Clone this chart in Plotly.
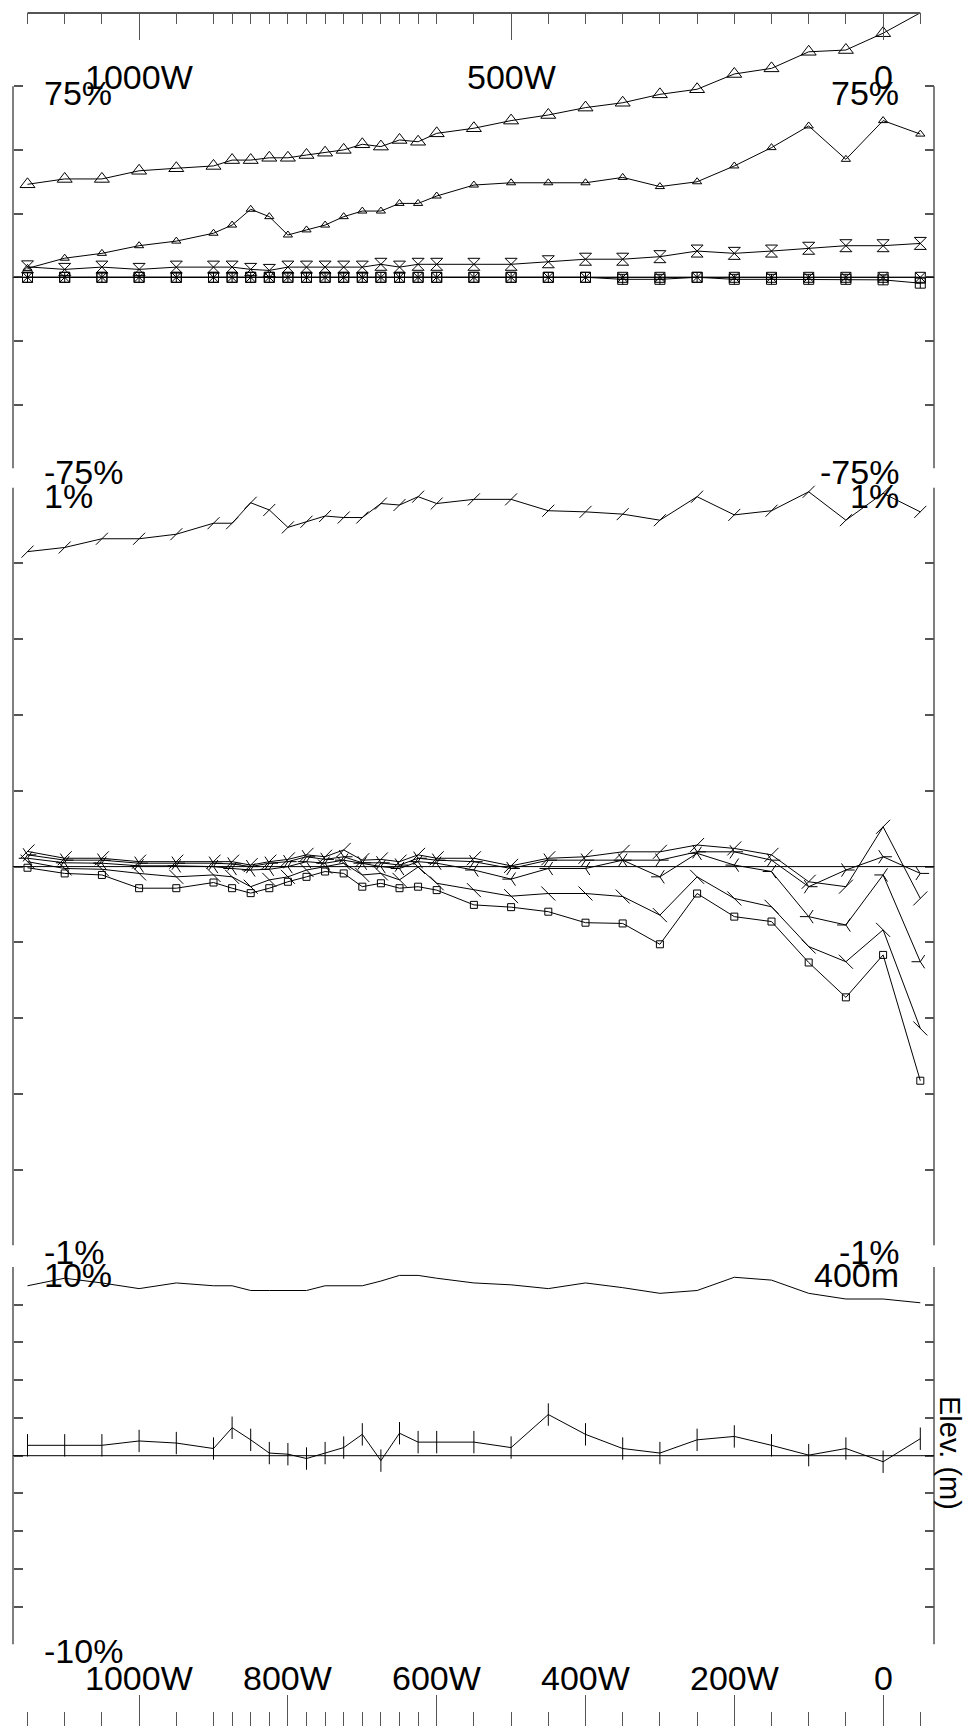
import plotly.graph_objects as go

W, H = 969, 1726

# ---------------- data ----------------
# distance along transect (m West; negative = East)
dist_w = [1150, 1100, 1050, 1000, 950, 900, 875, 850, 825, 800, 775, 750, 725, 700, 675,
          650, 625, 600, 550, 500, 450, 400, 350, 300, 250, 200, 150, 100, 50, 0, -50]
top_tick_vals = [1000, 500, 0]
top_tick_text = ["1000W", "500W", "0"]
bot_tick_vals = [1000, 800, 600, 400, 200, 0]
bot_tick_text = ["1000W", "800W", "600W", "400W", "200W", "0"]

# panel 1 (%, range -75..75)
p1_a = [36.5, 38.6, 38.6, 41.8, 42.8, 43.7, 46.0, 46.0, 46.9, 46.9, 48.0, 48.9, 50.0, 52.2, 51.3,
        53.9, 53.2, 56.5, 58.5, 61.5, 63.7, 66.6, 68.5, 71.8, 73.8, 79.8, 82.0, 88.5, 89.2, 95.8, 103.8]
p1_b = [3.5, 7.5, 9.4, 12.4, 14.2, 17.3, 20.5, 26.7, 23.8, 16.6, 18.6, 20.5, 23.8, 26.0, 26.0,
        29.0, 29.0, 31.9, 36.2, 37.1, 37.1, 37.1, 39.2, 35.6, 37.5, 43.7, 50.9, 59.4, 46.3, 61.5, 56.2]
p1_c = [4.1, 3.1, 4.0, 3.1, 4.0, 4.0, 4.0, 3.1, 2.7, 4.0, 4.0, 4.0, 4.0, 4.0, 5.1,
        4.0, 5.1, 5.1, 5.1, 5.1, 6.1, 7.1, 7.1, 8.1, 10.3, 9.4, 10.3, 11.4, 12.4, 12.4, 13.3]
p1_d = [0.0, 0.0, 0.0, 0.0, 0.0, 0.0, 0.0, 0.0, 0.0, 0.0, 0.0, 0.0, 0.0, 0.0, 0.0,
        0.0, 0.0, 0.0, 0.0, 0.0, 0.0, 0.0, 0.0, 0.0, 0.0, 0.0, 0.0, 0.0, 0.0, 0.0, 0.0]
p1_e = [0.0, 0.0, 0.0, 0.0, 0.0, 0.0, 0.0, 0.0, 0.0, 0.0, 0.0, 0.0, 0.0, 0.0, 0.0,
        0.0, 0.0, 0.0, 0.0, 0.0, 0.0, 0.0, -0.8, -0.8, 0.0, -0.8, -0.8, -0.8, -0.8, -1.0, -2.3]

# panel 2 (%, range -1..1)
p2_seven = [0.831, 0.842, 0.865, 0.865, 0.877, 0.906, 0.906, 0.960, 0.941, 0.895, 0.910, 0.925, 0.921, 0.921, 0.958,
            0.954, 0.976, 0.958, 0.969, 0.969, 0.939, 0.936, 0.930, 0.914, 0.976, 0.928, 0.939, 0.989, 0.914, 0.985, 0.936]
p2_s1 = [0.040, 0.022, 0.022, 0.013, 0.013, 0.013, 0.013, 0.004, 0.013, 0.019, 0.031, 0.026, 0.044, 0.017, 0.019,
         0.013, 0.031, 0.022, 0.022, 0.002, 0.022, 0.026, 0.039, 0.039, 0.057, 0.048, 0.031, -0.040, -0.053, 0.105, -0.084]
p2_s2 = [0.031, 0.017, 0.017, 0.009, 0.009, 0.009, 0.007, 0.000, 0.009, 0.013, 0.026, 0.019, 0.026, 0.010, 0.010,
         0.004, 0.022, 0.017, 0.013, -0.005, 0.017, 0.017, 0.017, 0.017, 0.039, 0.039, 0.017, -0.053, -0.009, 0.026, -0.018]
p2_s3 = [0.022, 0.010, 0.009, 0.002, 0.002, 0.000, -0.005, -0.009, -0.007, 0.000, 0.013, 0.009, 0.017, 0.009, 0.000,
         -0.005, 0.013, 0.009, -0.009, -0.033, -0.005, -0.005, 0.017, -0.027, 0.035, 0.004, -0.013, -0.132, -0.154, -0.022, -0.251]
p2_s4 = [0.013, -0.005, -0.007, -0.018, -0.027, -0.022, -0.027, -0.053, -0.035, -0.027, -0.009, 0.000, 0.009, -0.022, -0.018,
         -0.035, -0.001, -0.044, -0.062, -0.078, -0.071, -0.071, -0.079, -0.128, -0.027, -0.084, -0.106, -0.211, -0.251, -0.167, -0.427]
p2_s5 = [-0.003, -0.018, -0.022, -0.057, -0.057, -0.042, -0.057, -0.070, -0.057, -0.040, -0.027, -0.013, -0.018, -0.053, -0.044,
         -0.057, -0.053, -0.062, -0.101, -0.107, -0.119, -0.148, -0.150, -0.205, -0.071, -0.132, -0.145, -0.253, -0.345, -0.233, -0.565]

# panel 3
elev_m = [380, 388, 383, 377, 383, 380, 380, 375, 375, 375, 375, 380, 380, 380, 385,
          391, 391, 388, 383, 381, 377, 383, 378, 372, 375, 389, 386, 372, 366, 366, 362]
p3_bar = [0.55, 0.55, 0.55, 0.78, 0.67, 0.38, 1.48, 0.84, 0.14, 0.08, -0.15, 0.14, 0.43, 1.13, -0.26,
          1.19, 0.72, 0.72, 0.72, 0.43, 2.18, 1.13, 0.38, 0.14, 0.84, 1.02, 0.55, 0.03, 0.38, -0.32, 0.90]

p1_ticks = [-75, -50, -25, 0, 25, 50, 75]
p2_ticks = [-1, -0.8, -0.6, -0.4, -0.2, 0, 0.2, 0.4, 0.6, 0.8, 1]
p3_ticks = [-10, -8, -6, -4, -2, 0, 2, 4, 6, 8, 10]
elev_ticks = [0, 40, 80, 120, 160, 200, 240, 280, 320, 360, 400]

# ---------------- helpers ----------------
x = [-d for d in dist_w]
def py(p):
    return 1 - p / H
def pxp(p):
    return p / W

XL, XR = 13, 934
FONT = dict(family="Liberation Sans Narrow, Arial Narrow, Liberation Sans, Arial, sans-serif", size=34, color="black")
AX = "#555555"

fig = go.Figure()

def add(y, xa, ya, symbol, size, mode="lines+markers"):
    fig.add_trace(go.Scatter(
        x=x, y=y, xaxis=xa, yaxis=ya, mode=mode, cliponaxis=False,
        line=dict(color="black", width=1),
        marker=dict(symbol=symbol, size=size, color="black",
                    line=dict(color="black", width=1)),
        showlegend=False, hoverinfo="skip"))

# panel 1 (top x axis x2 anchored to the panel's y axis)
add(p1_d, "x2", "y", "square-x-open", 10)
add(p1_e, "x2", "y5", "square-cross-open", 10)
add(p1_c, "x2", "y", "hourglass-open", 12)
add(p1_b, "x2", "y", "triangle-up-open", 8)
add(p1_a, "x2", "y", "triangle-up-open", 13)
# panel 2
add(p2_seven, "x", "y2", "line-ne-open", 12)
add(p2_s5, "x", "y6", "square-open", 7)
add(p2_s4, "x", "y6", "line-nw-open", 14)
add(p2_s3, "x", "y6", "y-left-open", 11)
add(p2_s2, "x", "y6", "y-right-open", 11)
add(p2_s1, "x", "y6", "line-ne-open", 14)
# panel 3
add(p3_bar, "x", "y3", "line-ns-open", 16)
add(elev_m, "x", "y4", "circle", 1, mode="lines")

# ---------------- axes ----------------
px_per = (920.3 - 27.5) / (max(dist_w) - min(dist_w))
xr = [-max(dist_w) - (27.5 - XL) / px_per, -min(dist_w) + (XR - 920.3) / px_per]

common_x = dict(domain=[pxp(XL), pxp(XR)], range=xr, showgrid=False, zeroline=False,
                showline=False, showticklabels=False, ticks="inside", tickcolor=AX, tickwidth=1)
fig.update_layout(
    xaxis=dict(**common_x, anchor="free", position=0, side="bottom",
               tickmode="array", tickvals=[-v for v in bot_tick_vals], ticklen=31,
               minor=dict(tickmode="array", tickvals=x, ticklen=14, ticks="inside",
                          tickcolor=AX, tickwidth=1)),
    xaxis2=dict(**common_x, anchor="y", side="top",
                tickmode="array", tickvals=[-v for v in top_tick_vals], ticklen=27,
                minor=dict(tickmode="array", tickvals=x, ticklen=11, ticks="inside",
                           tickcolor=AX, tickwidth=1)),
)

def yax(dom_px, rng, ticks, side, pos, **kw):
    d = dict(domain=[py(dom_px[1]), py(dom_px[0])], range=rng, anchor="free", position=pos, side=side,
             showgrid=False, zeroline=False, showline=False, showticklabels=False,
             ticks="inside", tickmode="array", tickvals=ticks, ticklen=9, tickcolor=AX, tickwidth=1.5)
    d.update(kw)
    return d

# panel 1: zero at 277.3 px, 2.548 px per %
p1_top = (277.3 - 13) / 2.548
fig.update_layout(
    yaxis=yax((13, 468.4), [-75, p1_top], p1_ticks, "left", pxp(XL)),
    yaxis5=yax((13, 468.4), [-75, p1_top], p1_ticks, "right", pxp(XR), overlaying="y"),
    yaxis2=yax((487.6, 1245.6), [-1, 1], p2_ticks, "left", pxp(XL)),
    yaxis6=yax((487.6, 1245.6), [-1, 1], p2_ticks, "right", pxp(XR), overlaying="y2"),
    yaxis3=yax((1266.9, 1644.5), [-10, 10], p3_ticks, "left", pxp(XL)),
    yaxis4=yax((1266.9, 1644.5), [0, 400], elev_ticks, "right", pxp(XR), overlaying="y3"),
)

shapes = []
for ya, lo, hi in [("y", -75, 75), ("y2", -1, 1), ("y3", -10, 10)]:
    for xp in (XL, XR):
        shapes.append(dict(type="line", xref="paper", yref=ya, x0=pxp(xp), x1=pxp(xp), y0=lo, y1=hi,
                           line=dict(color=AX, width=1.5)))
    shapes.append(dict(type="line", xref="paper", yref=ya, x0=pxp(XL), x1=pxp(XR), y0=0, y1=0,
                       line=dict(color="black", width=1)))
shapes.append(dict(type="line", xref="x", yref="paper", x0=min(x), x1=max(x), y0=py(13), y1=py(13),
                   line=dict(color=AX, width=2)))

ann = []
def text(t, xv, yv, xref="paper", xanchor="center", angle=0, size=None):
    f = dict(FONT)
    if size:
        f["size"] = size
    ann.append(dict(text=t, x=xv, y=yv, xref=xref, yref="paper", xanchor=xanchor, yanchor="middle",
                    showarrow=False, font=f, textangle=angle))

for v, t in zip(top_tick_vals, top_tick_text):
    text(t, -v, py(77), xref="x")
for v, t in zip(bot_tick_vals, bot_tick_text):
    text(t, -v, py(1678), xref="x")

LX, RX = pxp(42), pxp(901)
text("75%", LX, py(93), xanchor="left")
text("75%", RX, py(93), xanchor="right")
text("-75%", LX, py(472), xanchor="left")
text("-75%", RX, py(472), xanchor="right")
text("1%", LX, py(496), xanchor="left")
text("1%", RX, py(496), xanchor="right")
text("-1%", LX, py(1252), xanchor="left")
text("-1%", RX, py(1252), xanchor="right")
text("10%", LX, py(1275), xanchor="left")
text("400m", RX, py(1275), xanchor="right")
text("-10%", LX, py(1651), xanchor="left")
text("Elev. (m)", pxp(950), py(1453), angle=90, size=29)

fig.update_layout(width=W, height=H, margin=dict(l=0, r=0, t=0, b=0),
                  paper_bgcolor="white", plot_bgcolor="white",
                  shapes=shapes, annotations=ann, showlegend=False)

fig.write_html("out.html", config={"displayModeBar": False},
               post_script="document.body.style.margin='0';document.body.style.overflow='hidden';")
